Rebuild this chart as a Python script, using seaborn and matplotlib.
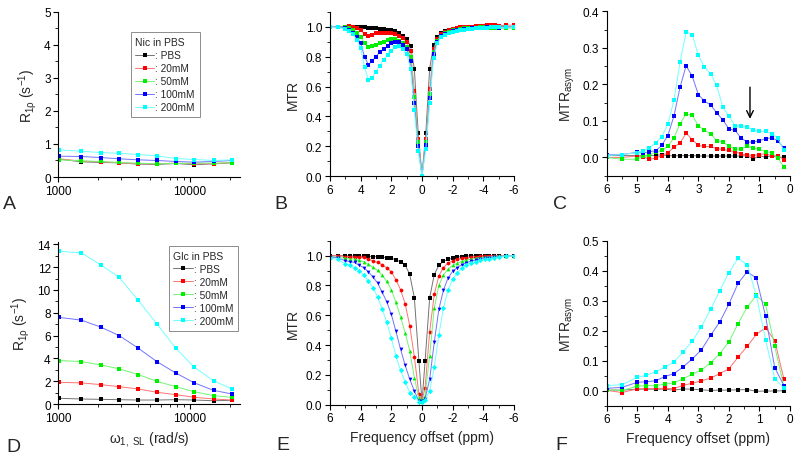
import matplotlib
matplotlib.use('Agg')
import pandas as pd
import matplotlib.pyplot as plt
from matplotlib.ticker import MultipleLocator, FixedLocator, FixedFormatter, LogLocator, NullFormatter
import seaborn as sns

# ---- data ----
labels = [': PBS', ': 20mM', ': 50mM', ': 100mM', ': 200mM']
colors = ['#000000', '#ff0000', '#00ee00', '#0000ff', '#00ffff']

# A / D : R1rho dispersion
w1 = [1020, 1500, 2100, 2900, 4050, 5600, 7800, 10800, 15100, 20800]
nic_pbs = [0.54, 0.46, 0.44, 0.43, 0.39, 0.38, 0.41, 0.37, 0.40, 0.43]
nic_20 = [0.55, 0.48, 0.46, 0.43, 0.40, 0.40, 0.42, 0.40, 0.40, 0.44]
nic_50 = [0.52, 0.49, 0.47, 0.44, 0.42, 0.40, 0.41, 0.42, 0.42, 0.43]
nic_100 = [0.63, 0.62, 0.59, 0.55, 0.52, 0.50, 0.47, 0.45, 0.47, 0.50]
nic_200 = [0.82, 0.78, 0.74, 0.72, 0.68, 0.64, 0.56, 0.53, 0.50, 0.52]

glc_pbs = [0.50, 0.44, 0.41, 0.38, 0.35, 0.35, 0.38, 0.35, 0.29, 0.32]
glc_20 = [1.90, 1.85, 1.70, 1.52, 1.32, 1.03, 0.82, 0.59, 0.44, 0.35]
glc_50 = [3.81, 3.72, 3.43, 3.08, 2.58, 1.99, 1.52, 1.08, 0.73, 0.59]
glc_100 = [7.59, 7.35, 6.74, 6.00, 4.89, 3.72, 2.72, 1.85, 1.20, 0.88]
glc_200 = [13.39, 13.24, 12.20, 11.10, 9.08, 7.03, 4.89, 3.22, 2.05, 1.32]

# B : Z-spectra, nicotinamide
ppm_b = [6, 5.5, 5, 4.75, 4.5, 4.25, 4, 3.75, 3.5, 3.25, 3, 2.75, 2.5, 2.25, 2, 1.75, 1.5,
         1.25, 1, 0.75, 0.5, 0.25, 0, -0.25, -0.5, -0.75, -1, -1.25, -1.5, -1.75, -2, -2.25,
         -2.5, -2.75, -3, -3.25, -3.5, -3.75, -4, -4.25, -4.5, -4.75, -5, -5.5, -6]
zb_pbs = [1.0, 1.0, 1.0, 1.0, 1.0, 1.0, 0.995, 0.995, 0.99, 0.99, 0.99, 0.985, 0.985, 0.98, 0.975,
          0.97, 0.955, 0.94, 0.92, 0.87, 0.72, 0.29, 0.005, 0.29, 0.72, 0.875, 0.93, 0.955, 0.97,
          0.98, 0.985, 0.99, 0.995, 0.995, 1.0, 1.0, 1.0, 1.0, 1.0, 1.0, 1.0, 1.0, 1.0, 1.0, 1.0]
zb_20 = [1.0, 1.0, 1.0, 1.005, 1.0, 0.99, 0.975, 0.95, 0.935, 0.945, 0.955, 0.96, 0.96, 0.96, 0.955,
         0.95, 0.94, 0.925, 0.9, 0.84, 0.57, 0.25, 0.005, 0.25, 0.58, 0.85, 0.92, 0.95, 0.965,
         0.975, 0.985, 0.99, 0.995, 1.0, 1.0, 1.0, 1.005, 1.005, 1.005, 1.01, 1.01, 1.01, 1.005, 1.01, 1.01]
zb_50 = [1.0, 1.0, 0.995, 0.99, 0.98, 0.96, 0.93, 0.89, 0.865, 0.87, 0.88, 0.89, 0.9, 0.91, 0.915,
         0.915, 0.905, 0.89, 0.865, 0.8, 0.53, 0.23, 0.005, 0.23, 0.55, 0.83, 0.905, 0.94, 0.955,
         0.965, 0.975, 0.98, 0.985, 0.99, 0.99, 0.99, 0.99, 0.995, 0.995, 0.99, 0.99, 0.99, 0.99, 0.99, 0.99]
zb_100 = [1.0, 1.0, 0.99, 0.98, 0.96, 0.93, 0.89, 0.8, 0.747, 0.77, 0.8, 0.83, 0.85, 0.87, 0.89,
          0.9, 0.895, 0.88, 0.85, 0.77, 0.49, 0.2, 0.005, 0.21, 0.52, 0.82, 0.9, 0.935, 0.95,
          0.96, 0.97, 0.975, 0.98, 0.985, 0.985, 0.99, 0.99, 0.99, 0.99, 0.995, 0.995, 0.995, 0.99, 0.995, 1.0]
zb_200 = [1.0, 0.995, 0.985, 0.97, 0.95, 0.91, 0.86, 0.73, 0.645, 0.66, 0.7, 0.74, 0.78, 0.81, 0.84,
          0.865, 0.87, 0.85, 0.82, 0.72, 0.44, 0.17, 0.005, 0.18, 0.49, 0.79, 0.89, 0.93, 0.945,
          0.955, 0.965, 0.97, 0.975, 0.98, 0.985, 0.985, 0.99, 0.99, 0.99, 0.99, 0.995, 0.995, 0.995, 0.995, 1.0]

# C : MTRasym, nicotinamide
ppm_c = [6, 5.5, 5, 4.8, 4.6, 4.4, 4.2, 4.0, 3.8, 3.6, 3.4, 3.2, 3.0, 2.8, 2.6, 2.4, 2.2, 2.0,
         1.8, 1.6, 1.4, 1.2, 1.0, 0.8, 0.6, 0.4, 0.2]
ac_pbs = [0.005, 0.005, 0.005, 0.004, 0.005, 0.006, 0.007, 0.005, 0.004, 0.005, 0.005, 0.005, 0.004,
          0.004, 0.004, 0.004, 0.004, 0.004, 0.004, 0.004, 0.005, -0.004, 0.005, 0.0, 0.005, 0.0, 0.001]
ac_20 = [0.0, 0.0, 0.004, 0.002, -0.005, -0.002, 0.005, 0.013, 0.028, 0.04, 0.066, 0.049, 0.033,
         0.03, 0.03, 0.024, 0.022, 0.019, 0.016, 0.009, 0.007, 0.005, 0.008, 0.01, 0.005, 0.005, -0.006]
ac_50 = [0.0, -0.005, -0.005, 0.003, 0.007, 0.015, 0.019, 0.03, 0.054, 0.092, 0.119, 0.115, 0.087,
         0.074, 0.065, 0.046, 0.042, 0.031, 0.022, 0.024, 0.03, 0.026, 0.022, 0.016, 0.013, -0.002, -0.026]
ac_100 = [0.007, 0.008, 0.014, 0.012, 0.016, 0.018, 0.033, 0.06, 0.113, 0.192, 0.251, 0.222, 0.172,
          0.154, 0.144, 0.122, 0.103, 0.078, 0.074, 0.053, 0.042, 0.042, 0.046, 0.051, 0.054, 0.046, 0.026]
ac_200 = [0.005, 0.008, 0.013, 0.017, 0.027, 0.04, 0.056, 0.091, 0.156, 0.26, 0.344, 0.336, 0.28,
          0.247, 0.229, 0.197, 0.138, 0.113, 0.087, 0.085, 0.083, 0.074, 0.072, 0.071, 0.065, 0.053, 0.019]

# E : Z-spectra, glucose
ppm_e = [6, 5.5, 5, 4.7, 4.4, 4.1, 3.8, 3.5, 3.2, 2.9, 2.6, 2.3, 2.0, 1.7, 1.4, 1.1, 0.8, 0.5, 0.2, 0,
         -0.2, -0.5, -0.8, -1.1, -1.4, -1.7, -2.0, -2.3, -2.6, -2.9, -3.2, -3.5, -3.8, -4.1, -4.4,
         -4.7, -5, -5.5, -6]
ze_pbs = [1.0, 1.0, 1.0, 0.998, 0.998, 0.997, 0.996, 0.995, 0.994, 0.993, 0.99, 0.987, 0.982, 0.972,
          0.958, 0.937, 0.874, 0.718, 0.29, 0.02, 0.29, 0.717, 0.873, 0.935, 0.962, 0.975, 0.984,
          0.99, 0.994, 0.997, 1.0, 1.0, 1.0, 1.0, 1.0, 1.0, 1.0, 1.0, 1.0]
ze_20 = [0.999, 1.0, 0.994, 0.993, 0.99, 0.989, 0.988, 0.975, 0.965, 0.954, 0.94, 0.918, 0.892, 0.838,
         0.772, 0.678, 0.53, 0.323, 0.071, 0.03, 0.11, 0.49, 0.74, 0.865, 0.92, 0.95, 0.965, 0.975,
         0.982, 0.987, 0.99, 0.993, 0.995, 0.997, 0.998, 1.0, 1.0, 1.0, 1.0]
ze_50 = [0.995, 0.99, 0.982, 0.978, 0.976, 0.968, 0.96, 0.942, 0.922, 0.901, 0.869, 0.827, 0.772, 0.686,
         0.591, 0.482, 0.362, 0.182, 0.045, 0.03, 0.06, 0.33, 0.65, 0.8, 0.87, 0.91, 0.935, 0.95,
         0.962, 0.97, 0.977, 0.982, 0.986, 0.99, 0.993, 0.995, 0.997, 1.0, 1.0]
ze_100 = [0.992, 0.986, 0.965, 0.96, 0.954, 0.935, 0.92, 0.891, 0.857, 0.817, 0.755, 0.691, 0.606, 0.492,
          0.373, 0.265, 0.171, 0.093, 0.023, 0.025, 0.04, 0.17, 0.42, 0.64, 0.77, 0.85, 0.895, 0.92,
          0.94, 0.953, 0.963, 0.97, 0.977, 0.982, 0.987, 0.99, 0.993, 0.997, 1.0]
ze_200 = [0.983, 0.975, 0.945, 0.934, 0.917, 0.897, 0.872, 0.831, 0.785, 0.722, 0.644, 0.552, 0.446, 0.329,
          0.23, 0.154, 0.08, 0.054, 0.021, 0.02, 0.03, 0.094, 0.25, 0.47, 0.65, 0.77, 0.84, 0.885,
          0.915, 0.935, 0.95, 0.96, 0.968, 0.975, 0.98, 0.985, 0.99, 0.995, 1.0]

# F : MTRasym, glucose
ppm_f = [6, 5.5, 5, 4.7, 4.4, 4.1, 3.8, 3.5, 3.2, 2.9, 2.6, 2.3, 2.0, 1.7, 1.4, 1.1, 0.8, 0.5, 0.2]
af_pbs = [0.002, 0.002, 0.005, 0.005, 0.005, 0.005, 0.002, 0.006, 0.005, 0.003, 0.001, 0.002, 0.002,
          0.003, 0.004, -0.002, -0.001, -0.001, 0.0]
af_20 = [0.001, -0.006, 0.006, 0.007, 0.008, 0.008, 0.007, 0.018, 0.025, 0.033, 0.042, 0.057, 0.073,
         0.112, 0.148, 0.188, 0.21, 0.167, 0.039]
af_50 = [0.003, 0.001, 0.015, 0.017, 0.017, 0.022, 0.026, 0.04, 0.055, 0.069, 0.093, 0.123, 0.163,
         0.224, 0.279, 0.318, 0.288, 0.148, 0.015]
af_100 = [0.008, 0.011, 0.028, 0.03, 0.033, 0.047, 0.057, 0.079, 0.106, 0.136, 0.185, 0.229, 0.289,
          0.358, 0.397, 0.375, 0.249, 0.077, 0.017]
af_200 = [0.017, 0.02, 0.045, 0.051, 0.063, 0.078, 0.096, 0.129, 0.165, 0.213, 0.271, 0.333, 0.394,
          0.441, 0.42, 0.316, 0.17, 0.04, 0.009]

# ---- style ----
sns.set_style('ticks')
plt.rcParams['font.family'] = ['Liberation Sans', 'DejaVu Sans']
plt.rcParams['mathtext.fontset'] = 'custom'
plt.rcParams['mathtext.rm'] = 'Liberation Sans'
plt.rcParams['mathtext.it'] = 'Liberation Sans:italic'
plt.rcParams['mathtext.default'] = 'regular'
plt.rcParams['axes.unicode_minus'] = False


def lighten(c, f=0.45):
    rgb = matplotlib.colors.to_rgb(c)
    return tuple(v + (1 - v) * f for v in rgb)


def draw(ax, x, series, marks, ms, with_labels=False):
    for i, y in enumerate(series):
        df = pd.DataFrame({'x': x, 'y': y})
        kw = dict(label=labels[i]) if with_labels else {}
        sns.lineplot(data=df, x='x', y='y', ax=ax, sort=False, estimator=None,
                     color=lighten(colors[i]), linewidth=0.7, marker=marks[i], ms=ms,
                     mfc=colors[i], mec=colors[i], mew=0, **kw)


def style(ax):
    sns.despine(ax=ax)
    for s in ['left', 'bottom']:
        ax.spines[s].set_linewidth(0.8)
        ax.spines[s].set_color('k')
    ax.tick_params(which='major', direction='out', length=3.5, width=0.8, labelsize=8.5, pad=2, colors='k')
    ax.tick_params(which='minor', direction='out', length=2, width=0.6, colors='k')
    ax.set_xlabel('')
    ax.set_ylabel('')


def log_axis(ax):
    ax.set_xscale('log')
    ax.set_xlim(1000, 24000)
    ax.xaxis.set_major_locator(FixedLocator([1000, 10000]))
    ax.xaxis.set_major_formatter(FixedFormatter(['1000', '10000']))
    ax.xaxis.set_minor_locator(LogLocator(base=10, subs=range(2, 10)))
    ax.xaxis.set_minor_formatter(NullFormatter())


def legend(ax, title, anchor):
    lg = ax.legend(title=title, loc='upper left', bbox_to_anchor=anchor, fontsize=7.3,
                   title_fontsize=7.5, frameon=True, fancybox=False, edgecolor='0.55',
                   framealpha=1, handlelength=1.9, handletextpad=0.1, labelspacing=0.3,
                   borderpad=0.45, alignment='left')
    lg.get_frame().set_linewidth(0.7)


fig = plt.figure(figsize=(8, 4.56), dpi=100)
sq = ['s'] * 5
lab_fs = 10

# A
axA = fig.add_axes([0.0729, 0.6096, 0.2271, 0.3625])
draw(axA, w1, [nic_pbs, nic_20, nic_50, nic_100, nic_200], sq, 3.2, with_labels=True)
style(axA)
log_axis(axA)
axA.set_ylim(0, 5)
axA.yaxis.set_major_locator(MultipleLocator(1))
axA.yaxis.set_minor_locator(MultipleLocator(0.5))
axA.set_ylabel(r'R$_{1\rho}$ (s$^{-1}$)', fontsize=lab_fs)
legend(axA, 'Nic in PBS', (0.37, 0.905))

# B
axB = fig.add_axes([0.4125, 0.6112, 0.23, 0.361])
draw(axB, ppm_b, [zb_pbs, zb_20, zb_50, zb_100, zb_200], sq, 2.4)
style(axB)
axB.set_xlim(6, -6)
axB.set_ylim(0, 1.1)
axB.xaxis.set_major_locator(MultipleLocator(2))
axB.xaxis.set_minor_locator(MultipleLocator(1))
axB.yaxis.set_major_locator(FixedLocator([0, 0.2, 0.4, 0.6, 0.8, 1.0]))
axB.yaxis.set_minor_locator(MultipleLocator(0.1))
axB.set_ylabel('MTR', fontsize=lab_fs)

# C
axC = fig.add_axes([0.7584, 0.6125, 0.2291, 0.3605])
draw(axC, ppm_c, [ac_pbs, ac_20, ac_50, ac_100, ac_200], sq, 2.8)
style(axC)
axC.set_xlim(6, 0)
axC.set_ylim(-0.05, 0.4)
axC.xaxis.set_major_locator(MultipleLocator(1))
axC.xaxis.set_minor_locator(MultipleLocator(0.5))
axC.yaxis.set_major_locator(FixedLocator([0, 0.1, 0.2, 0.3, 0.4]))
axC.yaxis.set_minor_locator(MultipleLocator(0.05))
axC.set_ylabel('MTR$_{asym}$', fontsize=lab_fs)
axC.annotate('', xy=(1.31, 0.098), xytext=(1.31, 0.2),
             arrowprops=dict(arrowstyle='->', color='k', lw=1.0, mutation_scale=12))

# D
axD = fig.add_axes([0.0729, 0.1118, 0.2271, 0.3553])
draw(axD, w1, [glc_pbs, glc_20, glc_50, glc_100, glc_200], sq, 3.2, with_labels=True)
style(axD)
log_axis(axD)
axD.set_ylim(0, 14.2)
axD.yaxis.set_major_locator(FixedLocator([0, 2, 4, 6, 8, 10, 12, 14]))
axD.yaxis.set_minor_locator(MultipleLocator(1))
axD.set_ylabel(r'R$_{1\rho}$ (s$^{-1}$)', fontsize=lab_fs)
axD.set_xlabel(r'$\omega_{1,\ SL}$ (rad/s)', fontsize=lab_fs)
legend(axD, 'Glc in PBS', (0.58, 1.005))

# E
axE = fig.add_axes([0.4125, 0.1103, 0.23, 0.3596])
draw(axE, ppm_e, [ze_pbs, ze_20, ze_50, ze_100, ze_200], ['s', 'o', '^', 'v', 'D'], 2.7)
style(axE)
axE.set_xlim(6, -6)
axE.set_ylim(0, 1.1)
axE.xaxis.set_major_locator(MultipleLocator(2))
axE.xaxis.set_minor_locator(MultipleLocator(1))
axE.yaxis.set_major_locator(FixedLocator([0, 0.2, 0.4, 0.6, 0.8, 1.0]))
axE.yaxis.set_minor_locator(MultipleLocator(0.1))
axE.set_ylabel('MTR', fontsize=lab_fs)
axE.set_xlabel('Frequency offset (ppm)', fontsize=lab_fs)

# F
axF = fig.add_axes([0.7584, 0.1081, 0.2291, 0.3618])
draw(axF, ppm_f, [af_pbs, af_20, af_50, af_100, af_200], sq, 2.8)
style(axF)
axF.set_xlim(6, 0)
axF.set_ylim(-0.05, 0.5)
axF.xaxis.set_major_locator(MultipleLocator(1))
axF.xaxis.set_minor_locator(MultipleLocator(0.5))
axF.yaxis.set_major_locator(FixedLocator([0, 0.1, 0.2, 0.3, 0.4, 0.5]))
axF.yaxis.set_minor_locator(MultipleLocator(0.05))
axF.set_ylabel('MTR$_{asym}$', fontsize=lab_fs)
axF.set_xlabel('Frequency offset (ppm)', fontsize=lab_fs)

# panel letters
for txt, x, y in [('A', 0.004, 0.541), ('B', 0.343, 0.541), ('C', 0.691, 0.541),
                  ('D', 0.008, 0.009), ('E', 0.346, 0.013), ('F', 0.694, 0.013)]:
    fig.text(x, y, txt, fontsize=14, va='baseline', ha='left')

fig.savefig('out.png', dpi=100)
